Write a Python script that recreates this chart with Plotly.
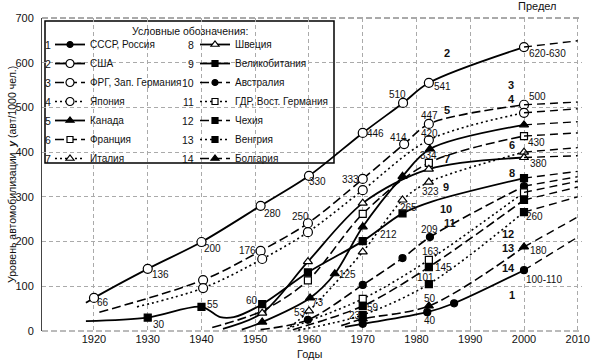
import plotly.graph_objects as go

W, H = 613, 364
ML, MR, MT, MB = 42, 31, 18, 33
FONT = "Liberation Sans, Arial, sans-serif"

# ---------------- data ----------------
ussr_years = [1966.7, 1970, 1982, 1987, 2000]
ussr_vals = [9, 16, 42, 62, 136]
ussr_mark = [0, 1, 1, 1, 1]

usa_years = [1918.5, 1920, 1930, 1940, 1951, 1960, 1970, 1977.5, 1982.3, 2000]
usa_vals = [63, 74, 139, 199, 280, 347, 443, 510, 555, 635]
usa_mark = [0, 1, 1, 1, 1, 1, 1, 1, 1, 1]

frg_years = [1921, 1940.3, 1951, 1959.8, 1970, 1977.7, 1982.3, 2000]
frg_vals = [42, 114, 179, 241, 340, 418, 463, 506]
frg_mark = [0, 1, 1, 1, 1, 1, 1, 1]

jpn_years = [1928, 1940.3, 1951.3, 1959.8, 1970, 1982.3, 2000]
jpn_vals = [54, 96, 161, 221, 315, 427, 488]
jpn_mark = [0, 1, 1, 1, 1, 1, 1]

can_years = [1947.5, 1951.3, 1960.2, 1964.8, 1970, 1977.4, 1982.5, 2000]
can_vals = [3, 20, 74, 128, 233, 346, 407, 461]
can_mark = [0, 1, 1, 1, 1, 1, 1, 1]

fra_years = [1942, 1951.3, 1959.8, 1970, 1982.3, 2000]
fra_vals = [8, 45, 113, 262, 376, 436]
fra_mark = [0, 1, 1, 1, 1, 1]

ita_years = [1956.5, 1960, 1970, 1977.4, 1982.3, 2000]
ita_vals = [9, 45, 177, 293, 333, 400]
ita_mark = [0, 1, 1, 1, 1, 1]

swe_years = [1944, 1951.3, 1959.8, 1970, 1982.3, 2000]
swe_vals = [5, 40, 155, 286, 362, 388]
swe_mark = [0, 1, 1, 1, 1, 1]

gbr_years = [1918.5, 1930, 1940, 1943.5, 1946, 1951.3, 1959.8, 1970, 1977.4, 1983, 2000]
gbr_vals = [22, 30, 54, 31, 31, 60, 131, 201, 263, 290, 342]
gbr_mark = [0, 1, 1, 0, 0, 1, 1, 1, 1, 0, 1]

aus_years = [1951, 1959.8, 1970, 1977.4, 1982.5, 2000]
aus_vals = [3, 25, 103, 163, 210, 324]
aus_mark = [0, 1, 1, 1, 1, 1]

gdr_years = [1956, 1970, 1982.3, 2000]
gdr_vals = [5, 72, 159, 310]
gdr_mark = [0, 1, 1, 1]

cze_years = [1957, 1970, 1982.3, 2000]
cze_vals = [3, 56, 143, 293]
cze_mark = [0, 1, 1, 1]

hun_years = [1958, 1970, 1982.3, 2000]
hun_vals = [2, 36, 105, 266]
hun_mark = [0, 1, 1, 1]

bgr_years = [1966, 1970, 1982.3, 2000]
bgr_vals = [12, 27, 56, 188]
bgr_mark = [0, 1, 1, 1]

limit_year = 2010
limit_vals = [210, 649, 512, 497, 468, 443, 410, 392, 357, 345, 335, 322, 300, 255]

names = ["СССР, Россия", "США", "ФРГ, Зап. Германия", "Япония", "Канада", "Франция",
         "Италия", "Швеция", "Великобитания", "Австралия", "ГДР, Вост. Германия",
         "Чехия", "Венгрия", "Болгария"]

x_ticks = [1920, 1930, 1940, 1950, 1960, 1970, 1980, 1990, 2000, 2010]
y_ticks = [0, 100, 200, 300, 400, 500, 600, 700]

# ---------------- styles ----------------
SOLID, DASH, DOT = "solid", "9px,4px", "2px,3px"
series = [
    (ussr_years, ussr_vals, ussr_mark, SOLID, "circle", "black", 7),
    (usa_years, usa_vals, usa_mark, SOLID, "circle", "white", 9),
    (frg_years, frg_vals, frg_mark, DASH, "circle", "white", 9),
    (jpn_years, jpn_vals, jpn_mark, DOT, "circle", "white", 9),
    (can_years, can_vals, can_mark, SOLID, "triangle-up", "black", 8),
    (fra_years, fra_vals, fra_mark, DASH, "square", "white", 7),
    (ita_years, ita_vals, ita_mark, DOT, "triangle-up", "white", 8),
    (swe_years, swe_vals, swe_mark, SOLID, "triangle-up", "white", 8),
    (gbr_years, gbr_vals, gbr_mark, SOLID, "square", "black", 7),
    (aus_years, aus_vals, aus_mark, DASH, "circle", "black", 7),
    (gdr_years, gdr_vals, gdr_mark, DOT, "square", "white", 7),
    (cze_years, cze_vals, cze_mark, DASH, "square", "black", 7),
    (hun_years, hun_vals, hun_mark, DOT, "square", "black", 7),
    (bgr_years, bgr_vals, bgr_mark, DASH, "triangle-up", "black", 8),
]

fig = go.Figure()

for i, (yrs, vals, mark, dash, sym, fill, sz) in enumerate(series):
    lw = 1.8 if dash == SOLID else 1.6
    marker = dict(symbol=sym, size=sz, color=fill,
                  line=dict(color="black", width=1.2))
    fig.add_trace(go.Scatter(
        x=yrs, y=vals, mode="lines+markers",
        line=dict(color="black", width=lw, dash=dash, shape="spline", smoothing=0.9),
        marker=dict(marker, opacity=[1 if m else 0 for m in mark]),
        showlegend=False, hoverinfo="skip"))
    # extension to the limit
    fig.add_trace(go.Scatter(
        x=[yrs[-1], limit_year], y=[vals[-1], limit_vals[i]], mode="lines",
        line=dict(color="black", width=1.4, dash="8px,5px"),
        showlegend=False, hoverinfo="skip"))

# legend entries
for i, (yrs, vals, mark, dash, sym, fill, sz) in enumerate(series):
    lw = 1.8 if dash == SOLID else 1.6
    fig.add_trace(go.Scatter(
        x=[None], y=[None], mode="lines+markers", name=names[i],
        legend="legend" if i < 7 else "legend2",
        line=dict(color="black", width=lw, dash=dash),
        marker=dict(symbol=sym, size=sz - 1, color=fill, line=dict(color="black", width=1.2))))


def px(x):
    return (x - ML) / (W - ML - MR)


def py(y):
    return (H - MB - y) / (H - MT - MB)


annotations = []


def txt(s, x, y, size=10, bold=False, xanchor="center", **kw):
    annotations.append(dict(
        text=f"<b>{s}</b>" if bold else s, x=px(x), y=py(y), xref="paper", yref="paper",
        xanchor=xanchor, yanchor="middle",
        showarrow=False, font=dict(size=size, family=FONT, color="#111"), **kw))


# value labels (pixel centres)
value_labels = [
    ("66", 103, 302), ("136", 160, 274), ("200", 212, 249), ("280", 272, 213),
    ("330", 317, 182), ("446", 375, 133), ("510", 397, 95), ("541", 442, 87),
    ("620-630", 547, 53), ("176", 247, 250), ("250", 300, 216), ("333", 350, 179),
    ("414", 398, 137), ("447", 429, 115), ("420", 429, 133), ("500", 537, 96),
    ("430", 536, 142), ("334", 428, 156), ("380", 538, 163), ("323", 430, 191),
    ("265", 408, 207), ("212", 388, 234), ("209", 429, 229), ("163", 430, 252),
    ("145", 443, 267), ("101", 425, 277), ("59", 373, 307), ("23", 355, 315),
    ("50", 430, 298), ("40", 430, 320), ("260", 534, 217), ("180", 538, 250),
    ("100-110", 544, 279), ("125", 347, 274), ("73", 318, 302), ("53", 300, 312),
    ("60", 252, 300), ("55", 213, 304), ("30", 159, 324),
]
for s, x, y in value_labels:
    txt(s, x, y, size=10)

num_labels = [("2", 447, 53), ("3", 511, 85), ("4", 511, 99), ("5", 447, 110),
              ("6", 512, 145), ("7", 447, 159), ("8", 512, 173), ("9", 446, 187),
              ("10", 446, 209), ("11", 450, 223), ("12", 508, 234), ("13", 508, 248),
              ("14", 508, 268), ("1", 512, 295)]
for s, x, y in num_labels:
    txt(s, x, y, size=11, bold=True)

# legend title and numbers
txt("Условные обозначения:", 190, 31, size=10.5)
for k in range(7):
    yy = 45 + 19 * k
    txt(str(k + 1), 53, yy, size=10.5, xanchor="right")
    txt(str(k + 8), 196, yy, size=10.5, xanchor="right")

txt("Предел", 537, 6, size=11)
txt("Годы", 310, 354, size=11)
txt("Уровень автомобилизации  <b><i>y</i></b> (авт/1000 чел.)", 12, 175, size=10.5,
    textangle=-90)

shapes = [
    dict(type="rect", xref="paper", yref="paper", x0=px(45), x1=px(334), y0=py(21), y1=py(163),
         fillcolor="white", line=dict(color="black", width=1.5), layer="between"),
    dict(type="line", xref="paper", yref="paper", x0=0, x1=1, y0=1, y1=1,
         line=dict(color="#555", width=1, dash="6px,3px"), layer="below"),
    dict(type="line", xref="paper", yref="paper", x0=0, x1=1, y0=0, y1=0,
         line=dict(color="#777", width=1, dash="6px,3px"), layer="below"),
]

fig.update_layout(
    width=W, height=H, margin=dict(l=ML, r=MR, t=MT, b=MB),
    paper_bgcolor="white", plot_bgcolor="white",
    font=dict(family=FONT, size=11, color="#111"),
    xaxis=dict(range=[1910.33, 2010.79], tickvals=x_ticks, showgrid=True,
               gridcolor="#aaa", griddash="4px,3px", gridwidth=1, zeroline=False,
               showline=False, ticks="", tickfont=dict(size=11)),
    yaxis=dict(range=[0, 700], tickvals=y_ticks, showgrid=True,
               gridcolor="#aaa", griddash="4px,3px", gridwidth=1, zeroline=False,
               showline=True, linecolor="#444", linewidth=1, ticks="",
               ticklabelstandoff=5, tickfont=dict(size=11)),
    legend=dict(x=px(50), y=py(30), xanchor="left", yanchor="top",
                bgcolor="rgba(0,0,0,0)", borderwidth=0, font=dict(size=10, family=FONT),
                itemwidth=30, traceorder="normal"),
    legend2=dict(x=px(195), y=py(30), xanchor="left", yanchor="top",
                 bgcolor="rgba(0,0,0,0)", borderwidth=0, font=dict(size=10, family=FONT),
                 itemwidth=30, traceorder="normal"),
    annotations=annotations, shapes=shapes,
)

fig.write_html("out.html", config={"displayModeBar": False},
               post_script="document.body.style.margin='0';")
